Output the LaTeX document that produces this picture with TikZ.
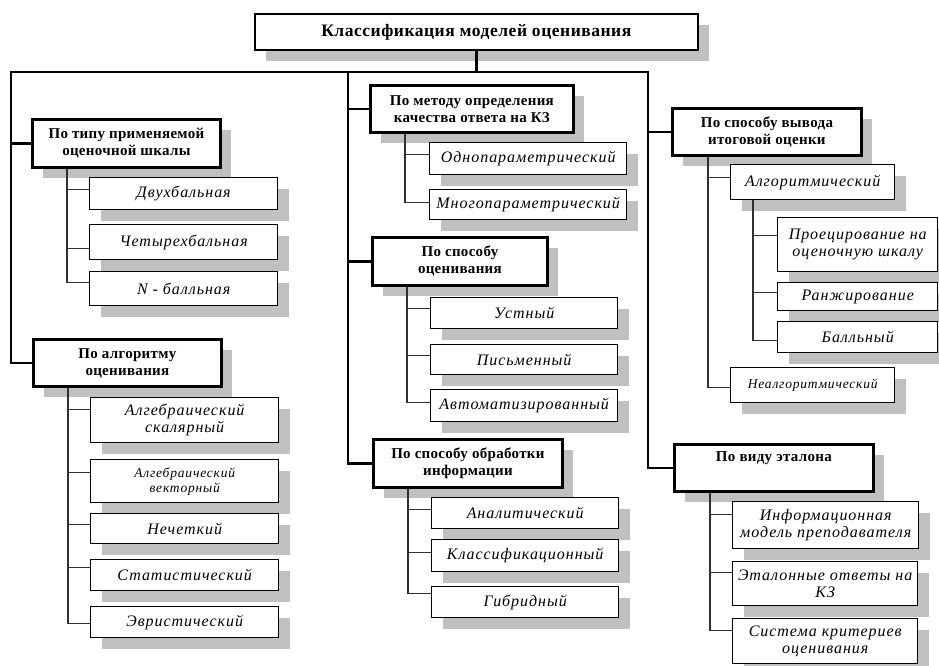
\documentclass[tikz,border=0pt]{standalone}
\usepackage{fontspec}
\setmainfont{Liberation Serif}
\usetikzlibrary{shadows}
\definecolor{shadowgray}{HTML}{C0C0C0}
\definecolor{subline}{HTML}{303030}
\tikzset{
  base/.style={draw=black, fill=white, anchor=north west, inner sep=1pt, align=center,
    drop shadow={shadow xshift=11pt, shadow yshift=-11pt, fill=shadowgray, opacity=1}},
  titlebox/.style={base, line width=1.6pt, font=\fontsize{17.5}{20}\selectfont\bfseries\addfontfeatures{LetterSpace=3}},
  groupbox/.style={base, line width=2.8pt, font=\fontsize{15}{17}\selectfont\bfseries\addfontfeatures{LetterSpace=2}},
  itembox/.style={base, line width=1.4pt, font=\fontsize{16}{17.5}\selectfont\itshape\addfontfeatures{LetterSpace=6}},
  smallitem/.style={itembox, font=\fontsize{13.5}{15}\selectfont\itshape\addfontfeatures{LetterSpace=6}},
  bus/.style={line width=2.4pt, draw=black},
  sub/.style={line width=1.4pt, draw=subline},
}
\newcommand\mybox[7]{\node[#1, minimum width={(#5-#3)*1pt}, minimum height={(#6-#4)*1pt}] (#2) at (#3,#4) {#7};}
\begin{document}
\begin{tikzpicture}[x=1pt,y=-1pt]
\useasboundingbox[fill=white] (0,0) rectangle (939,665);
% title
\mybox{titlebox}{title}{254}{13}{697}{49}{Классификация моделей оценивания}
% left column
\mybox{groupbox}{B1}{31}{118}{219}{166}{По типу применяемой\\оценочной шкалы}
\mybox{itembox}{C1}{89}{177}{277}{209}{Двухбальная}
\mybox{itembox}{C2}{89}{224}{277}{259}{Четырехбальная}
\mybox{itembox}{C3}{89}{271}{277}{305}{N - балльная}
\mybox{groupbox}{B2}{32}{338}{220}{385}{По алгоритму\\оценивания}
\mybox{itembox}{D1}{90}{397}{278}{442}{Алгебраический\\скалярный}
\mybox{smallitem}{D2}{90}{459}{278}{502}{Алгебраический\\векторный}
\mybox{itembox}{D3}{90}{513}{278}{543}{Нечеткий}
\mybox{itembox}{D4}{90}{559}{278}{590}{Статистический}
\mybox{itembox}{D5}{90}{606}{278}{637}{Эвристический}
% middle column
\mybox{groupbox}{M1}{369}{84}{572}{131}{По методу определения\\качества ответа на КЗ}
\mybox{itembox}{M1a}{429}{142}{626}{174}{Однопараметрический}
\mybox{itembox}{M1b}{429}{189}{626}{219}{Многопараметрический}
\mybox{groupbox}{M2}{371}{236}{546}{284}{По способу\\оценивания}
\mybox{itembox}{M2a}{430}{297}{617}{328}{Устный}
\mybox{itembox}{M2b}{430}{344}{617}{374}{Письменный}
\mybox{itembox}{M2c}{430}{389}{617}{421}{Автоматизированный}
\mybox{groupbox}{M3}{372}{438}{561}{486}{По способу обработки\\информации}
\mybox{itembox}{M3a}{431}{497}{618}{528}{Аналитический}
\mybox{itembox}{M3b}{431}{539}{618}{571}{Классификационный}
\mybox{itembox}{M3c}{431}{586}{618}{617}{Гибридный}
% right column
\mybox{groupbox}{R1}{671}{107}{860}{154}{По способу вывода\\итоговой оценки}
\mybox{itembox}{R1a}{730}{164}{894}{199}{Алгоритмический}
\mybox{itembox}{R1a1}{777}{217}{937}{271}{Проецирование на\\оценочную шкалу}
\mybox{itembox}{R1a2}{777}{282}{937}{310}{Ранжирование}
\mybox{itembox}{R1a3}{777}{321}{937}{352}{Балльный}
\mybox{smallitem}{R1b}{730}{367}{894}{402}{Неалгоритмический}
\mybox{groupbox}{R2}{673}{443}{872}{490}{По виду эталона\\\strut}
\mybox{itembox}{R2a}{732}{501}{918}{548}{Информационная\\модель преподавателя}
\mybox{itembox}{R2b}{732}{561}{917}{605}{Эталонные ответы на\\КЗ}
\mybox{itembox}{R2c}{732}{618}{917}{663}{Система критериев\\оценивания}
% bus coordinates
\coordinate (L) at (11,72);
\coordinate (M) at (348,72);
\coordinate (R) at (648,72);
\coordinate (tb) at (67,0);
\coordinate (tB) at (68,0);
\coordinate (tm1) at (405,0);
\coordinate (tm2) at (407,0);
\coordinate (tm3) at (408,0);
\coordinate (tr1) at (708,0);
\coordinate (tra) at (753,0);
\coordinate (tr2) at (710,0);
% main bus
\draw[bus] (title.south) -- (title.south |- L);
\draw[bus] (B2.west) -| (L) -- (R) |- (R2.west);
\draw[bus] (M) |- (M3.west);
\draw[bus] (L |- B1.west) -- (B1.west);
\draw[bus] (M |- M1.west) -- (M1.west);
\draw[bus] (M |- M2.west) -- (M2.west);
\draw[bus] (R |- R1.west) -- (R1.west);
% sub connectors
\draw[sub] (tb |- B1.south) |- ([yshift=6pt]C3.west);
\draw[sub] (tb |- C1.west) ++(0,-4) -- ([yshift=4pt]C1.west);
\draw[sub] (tb |- C2.west) ++(0,6.5) -- ([yshift=-6.5pt]C2.west);
\draw[sub] (tB |- B2.south) |- ([yshift=-1.5pt]D5.west);
\draw[sub] (tB |- D1.west) ++(0,-10.5) -- ([yshift=10.5pt]D1.west);
\draw[sub] (tB |- D2.west) ++(0,-8.5) -- ([yshift=8.5pt]D2.west);
\draw[sub] (tB |- D3.west) ++(0,-4) -- ([yshift=4pt]D3.west);
\draw[sub] (tB |- D4.west) ++(0,-7.5) -- ([yshift=7.5pt]D4.west);
\draw[sub] (tm1 |- M1.south) |- ([yshift=2pt]M1b.west);
\draw[sub] (tm1 |- M1a.west) ++(0,-4) -- ([yshift=4pt]M1a.west);
\draw[sub] (tm2 |- M2.south) |- ([yshift=3pt]M2c.west);
\draw[sub] (tm2 |- M2a.west) ++(0,-4.5) -- ([yshift=4.5pt]M2a.west);
\draw[sub] (tm2 |- M2b.west) ++(0,-4) -- ([yshift=4pt]M2b.west);
\draw[sub] (tm3 |- M3.south) |- ([yshift=8.5pt]M3c.west);
\draw[sub] (tm3 |- M3a.west) ++(0,-3.5) -- ([yshift=3.5pt]M3a.west);
\draw[sub] (tm3 |- M3b.west) ++(0,-3) -- ([yshift=3pt]M3b.west);
\draw[sub] (tr1 |- R1.south) |- ([yshift=-2.5pt]R1b.west);
\draw[sub] (tr1 |- R1a.west) ++(0,-4.5) -- ([yshift=4.5pt]R1a.west);
\draw[sub] (tra |- R1a.south) |- ([yshift=-3.5pt]R1a3.west);
\draw[sub] (tra |- R1a1.west) ++(0,-9) -- ([yshift=9pt]R1a1.west);
\draw[sub] (tra |- R1a2.west) ++(0,-4) -- ([yshift=4pt]R1a2.west);
\draw[sub] (tr2 |- R2.south) |- ([yshift=10.5pt]R2c.west);
\draw[sub] (tr2 |- R2a.west) ++(0,-10.5) -- ([yshift=10.5pt]R2a.west);
\draw[sub] (tr2 |- R2b.west) ++(0,-11) -- ([yshift=11pt]R2b.west);
\end{tikzpicture}
\end{document}
